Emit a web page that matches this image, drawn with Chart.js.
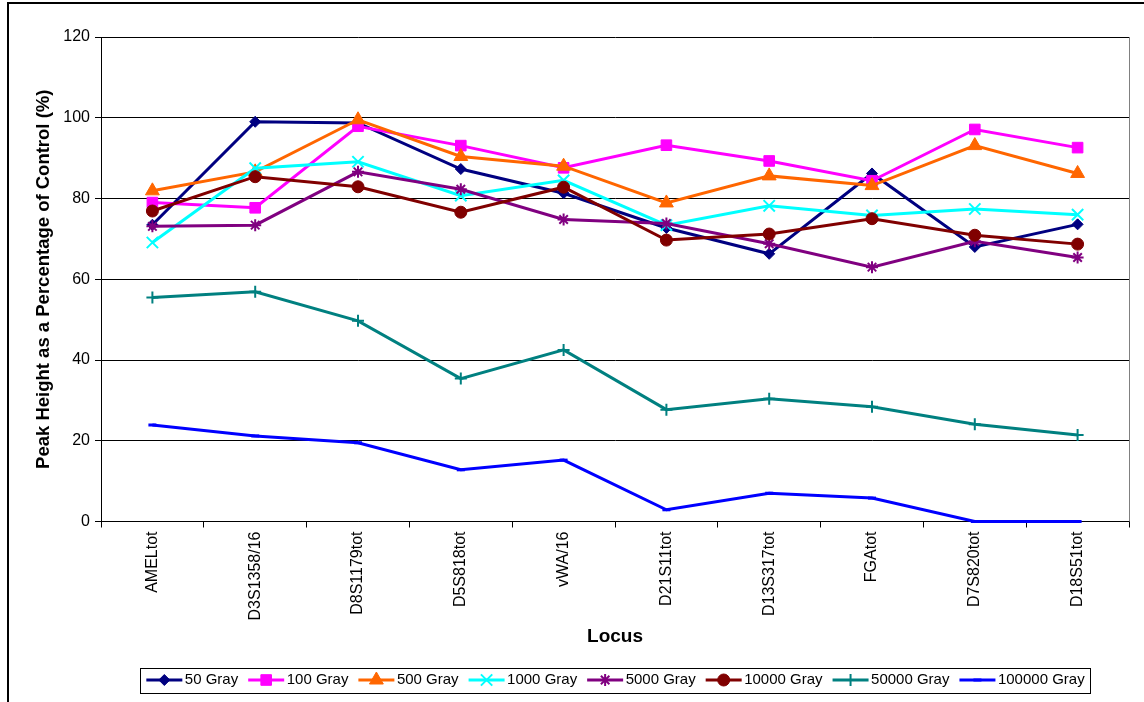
<!DOCTYPE html>
<html>
<head>
  <meta charset="UTF-8">
  <title>Peak Height as a Percentage of Control by Locus</title>
  <script src="https://cdn.jsdelivr.net/npm/chart.js"></script>
  <style>
    body { margin: 0; background: #fff; }
    #chartBox { width: 1144px; height: 702px; }
  </style>
</head>
<body>
  <div id="chartBox">
    <canvas id="lociChart" width="1144" height="702"></canvas>
  </div>

  <script>
    // Loci on the x axis
    const loci = ['AMELtot', 'D3S1358/16', 'D8S1179tot', 'D5S818tot', 'vWA/16',
                  'D21S11tot', 'D13S317tot', 'FGAtot', 'D7S820tot', 'D18S51tot'];

    // Peak height (% of control) per dose
    const gray50     = [73.5, 99.0, 98.7, 87.3, 81.3, 72.7, 66.3, 86.2, 68.0, 73.6];
    const gray100    = [79.0, 77.7, 97.9, 93.1, 87.6, 93.2, 89.3, 84.4, 97.1, 92.6];
    const gray500    = [81.9, 86.6, 99.5, 90.4, 88.0, 78.9, 85.6, 83.2, 93.1, 86.2];
    const gray1000   = [69.1, 87.5, 89.1, 80.7, 84.5, 73.4, 78.2, 75.8, 77.4, 76.0];
    const gray5000   = [73.1, 73.4, 86.6, 82.3, 74.8, 73.8, 68.8, 63.0, 69.4, 65.4];
    const gray10000  = [76.9, 85.4, 82.9, 76.6, 82.8, 69.7, 71.2, 75.0, 70.9, 68.7];
    const gray50000  = [55.5, 56.9, 49.7, 35.4, 42.5, 27.7, 30.4, 28.4, 24.1, 21.4];
    const gray100000 = [23.9, 21.2, 19.5, 12.8, 15.2, 2.9, 7.0, 5.8, 0, 0];

    const seriesNames = ['50 Gray', '100 Gray', '500 Gray', '1000 Gray',
                         '5000 Gray', '10000 Gray', '50000 Gray', '100000 Gray'];
    const seriesData = [gray50, gray100, gray500, gray1000,
                        gray5000, gray10000, gray50000, gray100000];

    // Styling per series
    const colors  = ['#000080', '#FF00FF', '#FF6600', '#00FFFF', '#800080', '#800000', '#008080', '#0000FF'];
    const markers = ['rectRot', 'rect', 'triangle', 'crossRot', 'star', 'circle', 'cross', 'line'];
    const radii   = [5.5, 7.5, 8, 8, 6, 6, 6, 4];
    const strokes = [1, 1, 1, 2, 2, 1, 2, 3];

    const FONT = "'Liberation Sans', Arial, sans-serif";
    const LEGEND_BOX = 32;

    const datasets = seriesNames.map((name, i) => ({
      label: name,
      data: seriesData[i],
      borderColor: colors[i],
      backgroundColor: colors[i],
      borderWidth: 3,
      tension: 0,
      pointStyle: markers[i],
      pointRadius: radii[i],
      pointBackgroundColor: colors[i],
      pointBorderColor: colors[i],
      pointBorderWidth: strokes[i],
      clip: false,
      order: seriesNames.length - i   // later series drawn on top
    }));

    // White background and the outer frame line
    const frame = {
      id: 'frame',
      beforeDraw(chart) {
        const ctx = chart.ctx;
        ctx.save();
        ctx.fillStyle = '#fff';
        ctx.fillRect(0, 0, chart.width, chart.height);
        ctx.strokeStyle = '#000';
        ctx.lineWidth = 2;
        ctx.strokeRect(8, 3, chart.width + 50, chart.height + 50);
        ctx.restore();
      },
      beforeDatasetsDraw(chart) {
        const a = chart.chartArea;
        const ctx = chart.ctx;
        ctx.save();
        ctx.strokeStyle = '#808080';
        ctx.lineWidth = 1;
        ctx.beginPath();
        ctx.moveTo(Math.round(a.right) + 0.5, a.top);
        ctx.lineTo(Math.round(a.right) + 0.5, a.bottom);
        ctx.stroke();
        ctx.restore();
      }
    };

    // Legend keys: a line with the series marker on it, inside a bordered box
    const legendKeys = {
      id: 'legendKeys',
      afterDraw(chart) {
        const legend = chart.legend;
        const boxes = legend.legendHitBoxes;
        const ctx = chart.ctx;
        ctx.save();
        legend.legendItems.forEach((item, i) => {
          const hb = boxes[i];
          const ds = chart.data.datasets[item.datasetIndex];
          const cy = hb.top + hb.height / 2;
          const x0 = hb.left + 1;
          const x1 = hb.left + LEGEND_BOX + 5;
          ctx.strokeStyle = ds.borderColor;
          ctx.lineWidth = 3;
          ctx.beginPath();
          ctx.moveTo(x0, cy);
          ctx.lineTo(x1, cy);
          ctx.stroke();
          ctx.fillStyle = ds.pointBackgroundColor;
          ctx.strokeStyle = ds.pointBorderColor;
          ctx.lineWidth = ds.pointBorderWidth;
          Chart.helpers.drawPoint(ctx, {
            pointStyle: ds.pointStyle,
            radius: ds.pointRadius,
            borderWidth: ds.pointBorderWidth,
            rotation: 0
          }, (x0 + x1) / 2, cy);
        });
        const first = boxes[0];
        const last = boxes[boxes.length - 1];
        const left = Math.round(first.left - 5) + 0.5;
        const right = Math.round(last.left + last.width + 5) + 0.5;
        const top = Math.round(first.top - 5) + 0.5;
        ctx.strokeStyle = '#000';
        ctx.lineWidth = 1;
        ctx.strokeRect(left, top, right - left, first.height + 10);
        ctx.restore();
      }
    };

    const ctx = document.getElementById('lociChart').getContext('2d');
    new Chart(ctx, {
      type: 'line',
      data: { labels: loci, datasets: datasets },
      options: {
        responsive: false,
        animation: false,
        devicePixelRatio: 1,
        layout: { padding: { left: 10, top: 37, right: 15, bottom: 4.5 } },
        plugins: {
          tooltip: { enabled: false },
          legend: {
            position: 'bottom',
            fullSize: false,
            labels: {
              color: '#000',
              font: { family: FONT, size: 15 },
              boxWidth: LEGEND_BOX,
              boxHeight: 15,
              padding: 9,
              sort: (a, b) => a.datasetIndex - b.datasetIndex,
              generateLabels(chart) {
                return chart.data.datasets.map((ds, i) => ({
                  text: ds.label,
                  datasetIndex: i,
                  fillStyle: 'rgba(0,0,0,0)',
                  strokeStyle: 'rgba(0,0,0,0)',
                  lineWidth: 0,
                  fontColor: '#000',
                  hidden: false
                }));
              }
            }
          }
        },
        scales: {
          x: {
            offset: true,
            afterFit(scale) { scale.height = 142; },
            grid: { offset: true, drawOnChartArea: false, color: '#000', tickLength: 6 },
            border: { color: '#000' },
            ticks: {
              autoSkip: false, minRotation: 90, maxRotation: 90, padding: 4,
              color: '#000', font: { family: FONT, size: 16 }
            },
            title: {
              display: true, text: 'Locus', color: '#000',
              font: { family: FONT, size: 19, weight: 'bold' },
              padding: { top: 0, bottom: 15 }
            }
          },
          y: {
            min: 0,
            max: 120,
            afterFit(scale) { scale.width = 91; },
            grid: { color: '#000', tickLength: 6 },
            border: { color: '#000' },
            ticks: {
              stepSize: 20, padding: 5,
              color: '#000', font: { family: FONT, size: 16 }
            },
            title: {
              display: true, text: 'Peak Height as a Percentage of Control (%)', color: '#000',
              font: { family: FONT, size: 18.5, weight: 'bold' },
              padding: { top: 23, bottom: 0 }
            }
          }
        }
      },
      plugins: [frame, legendKeys]
    });
  </script>
</body>
</html>
